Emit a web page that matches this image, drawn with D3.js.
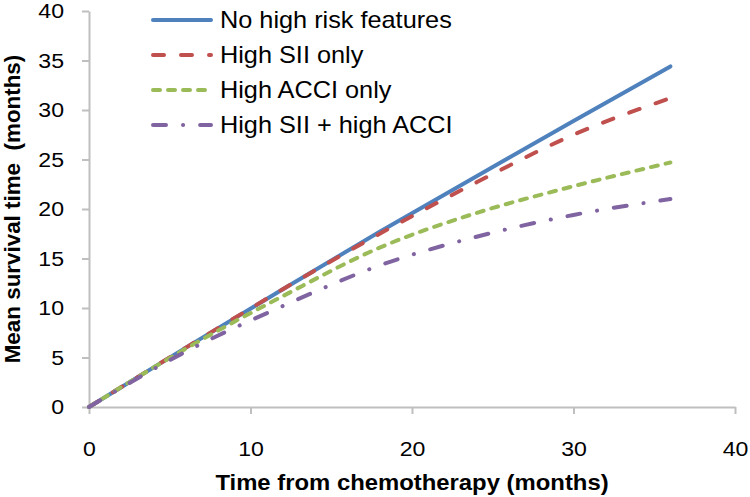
<!DOCTYPE html>
<html>
<head>
<meta charset="utf-8">
<script src="https://cdn.jsdelivr.net/npm/d3@7"></script>
<style>
  html, body { margin: 0; padding: 0; background: #fff; }
  svg { display: block; font-family: "Liberation Sans", Arial, sans-serif; }
</style>
</head>
<body>
<svg id="chart" width="750" height="497"></svg>
<script>
// ---- data ----
const months = [0, 6, 12, 18, 24, 30, 36];
const noHighRisk = [0, 6.0, 11.9, 17.7, 23.3, 28.9, 34.4];
const highSIIOnly = [0, 6.0, 11.9, 17.5, 22.7, 27.5, 31.2];
const highACCIOnly = [0, 5.9, 11.2, 16.1, 19.6, 22.3, 24.7];
const highSIIandACCI = [0, 5.6, 10.2, 14.3, 17.2, 19.4, 21.0];
const seriesNames = ["No high risk features", "High SII only", "High ACCI only", "High SII + high ACCI"];
const xTicks = [0, 10, 20, 30, 40];
const yTicks = [0, 5, 10, 15, 20, 25, 30, 35, 40];

const seriesValues = [noHighRisk, highSIIOnly, highACCIOnly, highSIIandACCI];
const colors = ["#4f81bd", "#c0504d", "#9bbb59", "#8064a2"];
const dashes = [null, "11,17", "7,8", "13,17,0.1,17"];
const sx = 1.1; // horizontal text stretch seen in the reference

const svg = d3.select("#chart");
const x = d3.scaleLinear().domain([0, 40]).range([89, 735]);
const y = d3.scaleLinear().domain([0, 40]).range([407, 11]);
const axisColor = "#bfbfbf";

// axes
const gx = svg.append("g").attr("transform", "translate(0,407)")
  .call(d3.axisBottom(x).tickValues(xTicks).tickSize(7).tickPadding(27).tickSizeOuter(0));
const gy = svg.append("g").attr("transform", "translate(89,0)")
  .call(d3.axisLeft(y).tickValues(yTicks).tickSize(7).tickPadding(18).tickSizeOuter(0));
[gx, gy].forEach(g => {
  g.select(".domain").attr("stroke", axisColor).attr("stroke-width", 2);
  g.selectAll(".tick line").attr("stroke", axisColor).attr("stroke-width", 2);
  g.selectAll(".tick text").attr("fill", "#000").style("font-size", "21px")
    .style("font-family", '"Liberation Sans", Arial, sans-serif')
    .each(function () {
      const t = d3.select(this);
      const xv = +t.attr("x") || 0;
      t.attr("x", xv / sx).attr("transform", `scale(${sx},1)`);
    });
});
gx.selectAll(".tick text").attr("dy", "0.71em");

// lines
const line = d3.line().x((d, i) => x(months[i])).y(d => y(d)).curve(d3.curveMonotoneX);
seriesValues.forEach((vals, k) => {
  svg.append("path").datum(vals)
    .attr("d", line)
    .attr("fill", "none")
    .attr("stroke", colors[k])
    .attr("stroke-width", 4)
    .attr("stroke-linecap", "round")
    .attr("stroke-dasharray", dashes[k]);
});

// legend
const legendRows = [20, 55, 90, 125];
seriesNames.forEach((name, k) => {
  svg.append("line")
    .attr("x1", 153).attr("x2", 211)
    .attr("y1", legendRows[k]).attr("y2", legendRows[k])
    .attr("stroke", colors[k]).attr("stroke-width", 4)
    .attr("stroke-linecap", "round")
    .attr("stroke-dasharray", dashes[k]);
  svg.append("text")
    .attr("transform", `translate(220,${legendRows[k] + 8}) scale(${sx},1)`)
    .style("font-size", "23px")
    .text(name);
});

// axis titles
svg.append("text")
  .attr("transform", `translate(412,490) scale(${sx},1)`)
  .attr("text-anchor", "middle")
  .style("font-size", "21.7px").style("font-weight", "bold")
  .text("Time from chemotherapy (months)");
svg.append("text")
  .attr("transform", "translate(20,209) rotate(-90)")
  .attr("text-anchor", "middle")
  .style("font-size", "22.4px").style("font-weight", "bold")
  .style("white-space", "pre")
  .text("Mean survival time  (months)");
</script>
</body>
</html>
